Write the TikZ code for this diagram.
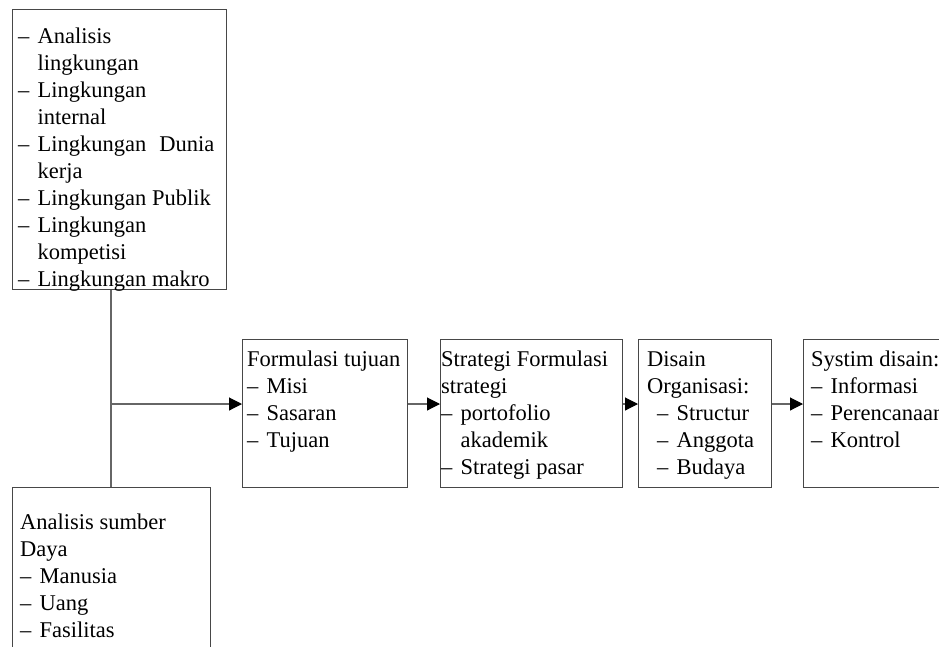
\documentclass[tikz,border=0pt]{standalone}
\usepackage{fontspec}
\setmainfont{Liberation Serif}
\usetikzlibrary{arrows.meta}
\newcommand\dsh{\makebox[19.5pt][l]{–}}
\newcommand\ind{\hspace*{19.5pt}}
\begin{document}
\begin{tikzpicture}[x=1pt,y=-1pt,
  box/.style={draw=black!72, line width=1.1pt, inner sep=0pt, anchor=north west},
  txt/.style={anchor=base west, inner sep=0pt, font=\fontsize{22.5}{27}\selectfont, text=black},
  conn/.style={draw=black!60, line width=1.1pt},
  arr/.style={conn, -{Triangle[length=13pt,width=13pt,fill=black,color=black]}}]
\useasboundingbox (0,0) rectangle (939,646);
\clip (0,0) rectangle (939,646);
\fill[white] (0,0) rectangle (939,646);
% boxes
\node[box, minimum width=214pt, minimum height=280pt] (env) at (12,9) {};
\node[box, minimum width=198pt, minimum height=220pt] (res) at (12,487) {};
\node[box, minimum width=165pt, minimum height=148pt] (form) at (242,339) {};
\node[box, minimum width=182pt, minimum height=148pt] (strat) at (440,339) {};
\node[box, minimum width=133pt, minimum height=148pt] (org) at (638,339) {};
\node[box, minimum width=165pt, minimum height=148pt] (sys) at (803,339) {};
% connectors
\coordinate (j) at (111,404);
\draw[conn] (env.south -| j) -- (res.north -| j);
\draw[arr] (j) -- (j -| form.west);
\draw[arr] (form.east |- j) -- (strat.west |- j);
\draw[arr] (strat.east |- j) -- (org.west |- j);
\draw[arr] (org.east |- j) -- (sys.west |- j);
% texts
\node[txt] (envt) at (18,43) {\begin{tabular}[t]{@{}l@{}}
\dsh Analisis\\
\ind lingkungan\\
\dsh Lingkungan\\
\ind internal\\
\dsh Lingkungan\hspace{13pt}Dunia\\
\ind kerja\\
\dsh Lingkungan Publik\\
\dsh Lingkungan\\
\ind kompetisi\\
\dsh Lingkungan makro
\end{tabular}};
\node[txt] (rest) at (20,529) {\begin{tabular}[t]{@{}l@{}}
Analisis sumber\\
Daya\\
\dsh Manusia\\
\dsh Uang\\
\dsh Fasilitas
\end{tabular}};
\node[txt] (formt) at (247,366) {\begin{tabular}[t]{@{}l@{}}
Formulasi tujuan\\
\dsh Misi\\
\dsh Sasaran\\
\dsh Tujuan
\end{tabular}};
\node[txt] (stratt) at (441,366) {\begin{tabular}[t]{@{}l@{}}
Strategi Formulasi\\
strategi\\
\dsh portofolio\\
\ind akademik\\
\dsh Strategi pasar
\end{tabular}};
\node[txt] (orgt) at (647,366) {\begin{tabular}[t]{@{}l@{}}
Disain\\
Organisasi:\\
\hspace*{10pt}\dsh Structur\\
\hspace*{10pt}\dsh Anggota\\
\hspace*{10pt}\dsh Budaya
\end{tabular}};
\node[txt] (syst) at (811,366) {\begin{tabular}[t]{@{}l@{}}
Systim disain:\\
\dsh Informasi\\
\dsh Perencanaan\\
\dsh Kontrol
\end{tabular}};
\end{tikzpicture}
\end{document}
